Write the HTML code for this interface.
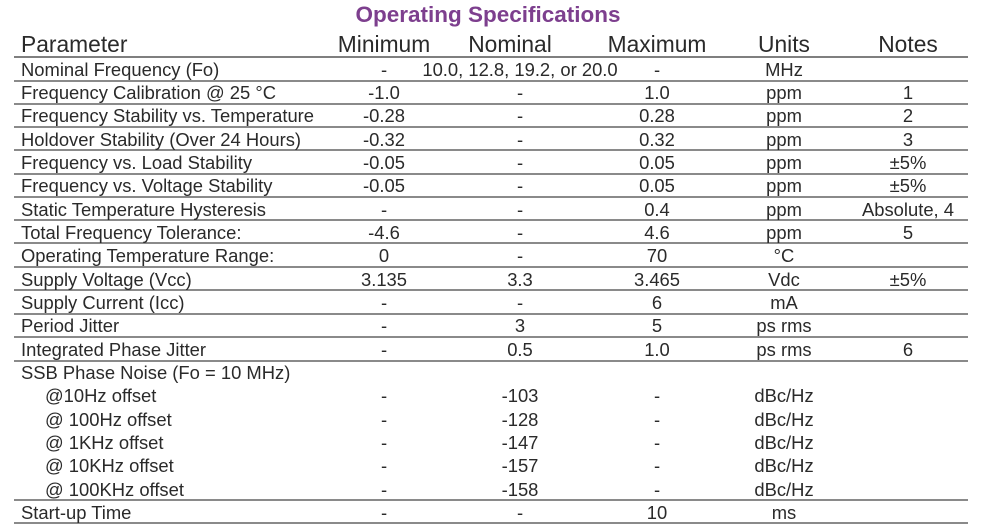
<!DOCTYPE html>
<html><head><meta charset="utf-8"><style>
html,body{margin:0;padding:0;background:#fff;}
svg{display:block;}
text{font-family:"Liberation Sans",Arial,sans-serif;fill:#2a2a2a;}
.h{font-size:22.8px;fill:#1a1a1a;}
.b{font-size:18.4px;}
.c{text-anchor:middle;}
</style></head><body>
<svg width="1001" height="524" viewBox="0 0 1001 524" xmlns="http://www.w3.org/2000/svg">
<text x="488" y="22" class="c" style="font-size:22.5px;font-weight:bold;fill:#7d3f8e">Operating Specifications</text>
<g class="h">
<text x="21" y="52">Parameter</text>
<text x="384" y="52" class="c">Minimum</text>
<text x="510" y="52" class="c">Nominal</text>
<text x="657" y="52" class="c">Maximum</text>
<text x="784" y="52" class="c">Units</text>
<text x="908" y="52" class="c">Notes</text>
</g>
<line x1="14" y1="57" x2="968" y2="57" stroke="#555" stroke-width="1.5"/>
<g stroke="#8a8a8a" stroke-width="2">
<line x1="14" y1="81" x2="968" y2="81"/>
<line x1="14" y1="104" x2="968" y2="104"/>
<line x1="14" y1="127" x2="968" y2="127"/>
<line x1="14" y1="150" x2="968" y2="150"/>
<line x1="14" y1="174" x2="968" y2="174"/>
<line x1="14" y1="197" x2="968" y2="197"/>
<line x1="14" y1="220" x2="968" y2="220"/>
<line x1="14" y1="243" x2="968" y2="243"/>
<line x1="14" y1="267" x2="968" y2="267"/>
<line x1="14" y1="290" x2="968" y2="290"/>
<line x1="14" y1="314" x2="968" y2="314"/>
<line x1="14" y1="337" x2="968" y2="337"/>
<line x1="14" y1="361" x2="968" y2="361"/>
<line x1="14" y1="500" x2="968" y2="500"/>
<line x1="14" y1="523" x2="968" y2="523"/>
</g>
<g class="b">
<text x="21" y="76">Nominal Frequency (Fo)</text><text x="384" y="76" class="c">-</text><text x="520" y="76" class="c">10.0, 12.8, 19.2, or 20.0</text><text x="657" y="76" class="c">-</text><text x="784" y="76" class="c">MHz</text>
<text x="21" y="99">Frequency Calibration @ 25 °C</text><text x="384" y="99" class="c">-1.0</text><text x="520" y="99" class="c">-</text><text x="657" y="99" class="c">1.0</text><text x="784" y="99" class="c">ppm</text><text x="908" y="99" class="c">1</text>
<text x="21" y="122">Frequency Stability vs. Temperature</text><text x="384" y="122" class="c">-0.28</text><text x="520" y="122" class="c">-</text><text x="657" y="122" class="c">0.28</text><text x="784" y="122" class="c">ppm</text><text x="908" y="122" class="c">2</text>
<text x="21" y="146">Holdover Stability (Over 24 Hours)</text><text x="384" y="146" class="c">-0.32</text><text x="520" y="146" class="c">-</text><text x="657" y="146" class="c">0.32</text><text x="784" y="146" class="c">ppm</text><text x="908" y="146" class="c">3</text>
<text x="21" y="169">Frequency vs. Load Stability</text><text x="384" y="169" class="c">-0.05</text><text x="520" y="169" class="c">-</text><text x="657" y="169" class="c">0.05</text><text x="784" y="169" class="c">ppm</text><text x="908" y="169" class="c">±5%</text>
<text x="21" y="192">Frequency vs. Voltage Stability</text><text x="384" y="192" class="c">-0.05</text><text x="520" y="192" class="c">-</text><text x="657" y="192" class="c">0.05</text><text x="784" y="192" class="c">ppm</text><text x="908" y="192" class="c">±5%</text>
<text x="21" y="216">Static Temperature Hysteresis</text><text x="384" y="216" class="c">-</text><text x="520" y="216" class="c">-</text><text x="657" y="216" class="c">0.4</text><text x="784" y="216" class="c">ppm</text><text x="908" y="216" class="c">Absolute, 4</text>
<text x="21" y="239">Total Frequency Tolerance:</text><text x="384" y="239" class="c">-4.6</text><text x="520" y="239" class="c">-</text><text x="657" y="239" class="c">4.6</text><text x="784" y="239" class="c">ppm</text><text x="908" y="239" class="c">5</text>
<text x="21" y="262">Operating Temperature Range:</text><text x="384" y="262" class="c">0</text><text x="520" y="262" class="c">-</text><text x="657" y="262" class="c">70</text><text x="784" y="262" class="c">°C</text>
<text x="21" y="286">Supply Voltage (Vcc)</text><text x="384" y="286" class="c">3.135</text><text x="520" y="286" class="c">3.3</text><text x="657" y="286" class="c">3.465</text><text x="784" y="286" class="c">Vdc</text><text x="908" y="286" class="c">±5%</text>
<text x="21" y="309">Supply Current (Icc)</text><text x="384" y="309" class="c">-</text><text x="520" y="309" class="c">-</text><text x="657" y="309" class="c">6</text><text x="784" y="309" class="c">mA</text>
<text x="21" y="332">Period Jitter</text><text x="384" y="332" class="c">-</text><text x="520" y="332" class="c">3</text><text x="657" y="332" class="c">5</text><text x="784" y="332" class="c">ps rms</text>
<text x="21" y="356">Integrated Phase Jitter</text><text x="384" y="356" class="c">-</text><text x="520" y="356" class="c">0.5</text><text x="657" y="356" class="c">1.0</text><text x="784" y="356" class="c">ps rms</text><text x="908" y="356" class="c">6</text>
<text x="21" y="379">SSB Phase Noise (Fo = 10 MHz)</text>
<text x="45" y="402">@10Hz offset</text><text x="384" y="402" class="c">-</text><text x="520" y="402" class="c">-103</text><text x="657" y="402" class="c">-</text><text x="784" y="402" class="c">dBc/Hz</text>
<text x="45" y="426">@ 100Hz offset</text><text x="384" y="426" class="c">-</text><text x="520" y="426" class="c">-128</text><text x="657" y="426" class="c">-</text><text x="784" y="426" class="c">dBc/Hz</text>
<text x="45" y="449">@ 1KHz offset</text><text x="384" y="449" class="c">-</text><text x="520" y="449" class="c">-147</text><text x="657" y="449" class="c">-</text><text x="784" y="449" class="c">dBc/Hz</text>
<text x="45" y="472">@ 10KHz offset</text><text x="384" y="472" class="c">-</text><text x="520" y="472" class="c">-157</text><text x="657" y="472" class="c">-</text><text x="784" y="472" class="c">dBc/Hz</text>
<text x="45" y="496">@ 100KHz offset</text><text x="384" y="496" class="c">-</text><text x="520" y="496" class="c">-158</text><text x="657" y="496" class="c">-</text><text x="784" y="496" class="c">dBc/Hz</text>
<text x="21" y="519">Start-up Time</text><text x="384" y="519" class="c">-</text><text x="520" y="519" class="c">-</text><text x="657" y="519" class="c">10</text><text x="784" y="519" class="c">ms</text>
</g>
</svg>
</body></html>
